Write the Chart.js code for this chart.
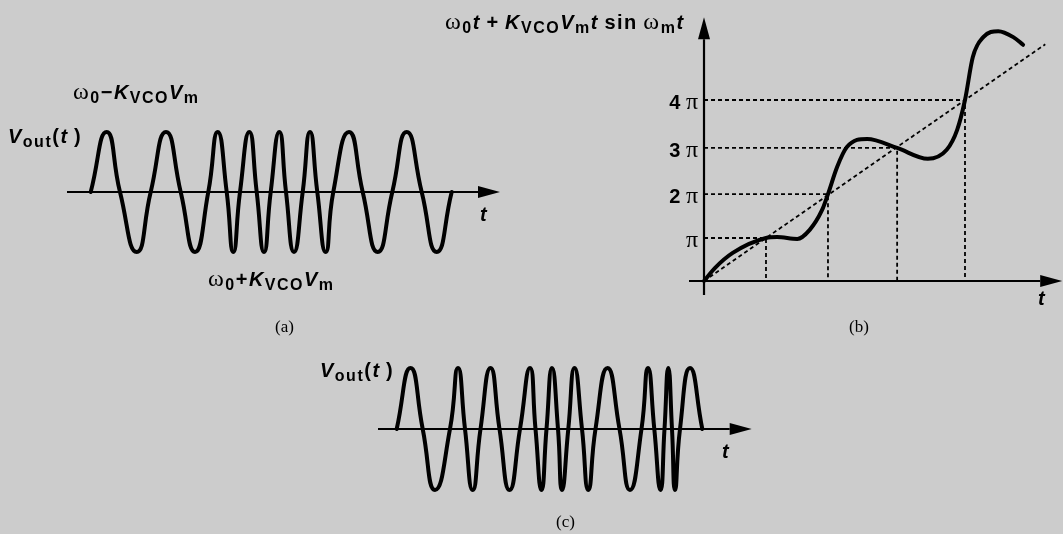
<!DOCTYPE html>
<html>
<head>
<meta charset="utf-8">
<script src="https://cdn.jsdelivr.net/npm/chart.js@4.4.1/dist/chart.umd.min.js"></script>
<style>
  body { margin: 0; background: #cccccc; width: 1063px; height: 534px; position: relative; overflow: hidden;
         font-family: "Liberation Sans", Arial, sans-serif; }
  canvas { position: absolute; }
  .lbl { position: absolute; white-space: nowrap; line-height: 1; color: #000; font-weight: bold; font-size: 20px; letter-spacing: 1.5px; }
  .lbl i { font-style: italic; }
  .lbl sub { font-size: 16px; vertical-align: -4px; font-style: normal; line-height: 0; }
  .sr { font-family: "Liberation Serif", "Times New Roman", serif; font-weight: normal; font-style: normal; font-size: 24px; line-height: 0; }
  .cap { position: absolute; font-family: "Liberation Serif", serif; font-size: 17px; line-height: 1; }
</style>
</head>
<body>
<canvas id="chartA" width="480" height="180" style="left:40px;top:100px"></canvas>
<canvas id="chartB" width="423" height="310" style="left:640px;top:0px"></canvas>
<canvas id="chartC" width="420" height="180" style="left:360px;top:340px"></canvas>

<div class="lbl" style="left:73px;top:82px"><span class="sr">ω</span><sub>0</sub>−<i>K</i><sub>VCO</sub><i>V</i><sub>m</sub></div>
<div class="lbl" style="left:8px;top:126px"><i>V</i><sub>out</sub>(<i>t</i>&thinsp;)</div>
<div class="lbl" style="left:208px;top:269px"><span class="sr">ω</span><sub>0</sub>+<i>K</i><sub>VCO</sub><i>V</i><sub>m</sub></div>
<div class="lbl" style="left:480px;top:204px"><i>t</i></div>
<div class="cap" style="left:275px;top:318px">(a)</div>

<div class="lbl" style="left:445px;top:12px"><span class="sr">ω</span><sub>0</sub><i>t</i>&thinsp;+&thinsp;<i>K</i><sub>VCO</sub><i>V</i><sub>m</sub><i>t</i>&thinsp;sin&thinsp;<span class="sr">ω</span><sub>m</sub><i>t</i></div>
<div class="lbl" style="left:1038px;top:288px"><i>t</i></div>
<div class="cap" style="left:849px;top:318px">(b)</div>

<div class="lbl" style="left:320px;top:360px"><i>V</i><sub>out</sub>(<i>t</i>&thinsp;)</div>
<div class="lbl" style="left:722px;top:441px"><i>t</i></div>
<div class="cap" style="left:556px;top:513px">(c)</div>

<script>
// (a) FM output: times of zero crossings / peaks (arb. units) and normalized level
const aTimes = [0, 1.6, 2.93, 4.6, 6.0, 7.53, 9.0, 10.43, 11.76, 12.7, 13.6, 14.26, 14.93, 15.86, 16.6, 17.33,
  18.0, 18.86, 19.53, 20.33, 21.2, 21.93, 22.66, 23.5, 24.26, 25.83, 27.2, 28.7, 30.16, 31.6, 33.1, 34.6, 36.1];
const aLevels = [0, 1, 0, -1, 0, 1, 0, -1, 0, 1, 0, -1, 0, 1, 0, -1,
  0, 1, 0, -1, 0, 1, 0, -1, 0, 1, 0, -1, 0, 1, 0, -1, 0];

// (b) phase vs time (phase in units of pi)
const bCurveT = [0, 0.17, 0.44, 0.95, 1.12, 1.43, 1.62, 1.81, 1.90, 2.04, 2.19, 2.50, 2.96, 3.43, 3.72, 3.88, 4.00, 4.12, 4.28, 4.51, 4.74, 4.89];
const bCurveV = [0, 0.29, 0.62, 0.95, 0.97, 0.93, 1.13, 1.57, 1.92, 2.52, 2.96, 3.14, 2.94, 2.70, 2.90, 3.34, 4.00, 4.95, 5.39, 5.52, 5.39, 5.22];
const bDiagT = [0, 5.23];
const bDiagV = [0, 5.23];
const bLevels = [0.95, 1.92, 2.94, 4.0];
const bCrossT = [0.95, 1.90, 2.96, 4.0];
const bLevelLabels = ['π', '2 π', '3 π', '4 π'];

// (c) output for the phase in (b)
const cTimes = [0, 1.38, 2.6, 3.83, 5.33, 6.13, 6.83, 7.6, 8.38, 9.38, 10.28, 11.28, 12.33, 13.33, 13.88, 14.48,
  14.98, 15.53, 16.13, 16.53, 17.16, 17.78, 18.53, 19.16, 19.88, 21.08, 22.28, 23.33, 24.48, 25.13, 25.76, 26.38,
  26.78, 27.16, 27.53, 27.83, 28.33, 29.33, 30.56];
const cLevels = [0, 1, 0, -1, 0, 1, 0, -1, 0, 1, 0, -1, 0, 1, 0, -1,
  0, 1, 0, -1, 0, 1, 0, -1, 0, 1, 0, -1, 0, 1, 0, -1,
  0, 1, 0, -1, 0, 1, 0];

const pts = (xs, ys) => xs.map((x, i) => ({ x: x, y: ys[i] }));

const arrowAxes = {
  id: 'arrowAxes',
  beforeDatasetsDraw(chart, args, opts) {
    const { ctx, scales: { x, y } } = chart;
    ctx.save();
    ctx.strokeStyle = '#000';
    ctx.fillStyle = '#000';
    ctx.lineWidth = opts.width;
    for (const ax of opts.axes) {
      const x0 = x.getPixelForValue(ax.from[0]), y0 = y.getPixelForValue(ax.from[1]);
      const x1 = x.getPixelForValue(ax.to[0]), y1 = y.getPixelForValue(ax.to[1]);
      const a = Math.atan2(y1 - y0, x1 - x0);
      const bx = x1 - opts.head * Math.cos(a), by = y1 - opts.head * Math.sin(a);
      ctx.beginPath();
      ctx.moveTo(x0, y0);
      ctx.lineTo(bx, by);
      ctx.stroke();
      ctx.beginPath();
      ctx.moveTo(x1, y1);
      ctx.lineTo(bx - opts.half * Math.sin(a), by + opts.half * Math.cos(a));
      ctx.lineTo(bx + opts.half * Math.sin(a), by - opts.half * Math.cos(a));
      ctx.closePath();
      ctx.fill();
    }
    ctx.restore();
  }
};

function baseOptions(xr, yr, axes) {
  return {
    responsive: false,
    animation: false,
    events: [],
    layout: { padding: 0 },
    plugins: {
      legend: { display: false },
      tooltip: { enabled: false },
      arrowAxes: { width: 2, head: 22, half: 6, axes: axes }
    },
    scales: {
      x: { type: 'linear', display: false, min: xr[0], max: xr[1] },
      y: { type: 'linear', display: false, min: yr[0], max: yr[1] }
    }
  };
}

function wave(data, mode) {
  return {
    data: data,
    showLine: true,
    borderColor: '#000',
    borderWidth: 4,
    pointRadius: 0,
    cubicInterpolationMode: mode || 'default',
    tension: 0.55,
    borderCapStyle: 'round'
  };
}

new Chart(document.getElementById('chartA'), {
  type: 'scatter',
  data: { datasets: [wave(pts(aTimes, aLevels))] },
  options: baseOptions([-5.07, 42.93], [-1.467, 1.533], [{ from: [-2.37, 0], to: [40.93, 0] }]),
  plugins: [arrowAxes]
});

new Chart(document.getElementById('chartC'), {
  type: 'scatter',
  data: { datasets: [wave(pts(cTimes, cLevels))] },
  options: baseOptions([-3.67, 38.33], [-1.492, 1.459], [{ from: [-1.87, 0], to: [35.5, 0] }]),
  plugins: [arrowAxes]
});

const dotted = (data) => ({
  data: data,
  showLine: true,
  borderColor: '#000',
  borderWidth: 1.8,
  borderDash: [4, 3],
  pointRadius: 0,
  tension: 0
});

const guideSets = bLevels.map((lv, i) => dotted([{ x: 0, y: lv }, { x: bCrossT[i], y: lv }, { x: bCrossT[i], y: 0 }]));
const bOpts = baseOptions([-0.981, 5.502], [-0.641, 6.210],
  [{ from: [-0.23, 0], to: [5.49, 0] }, { from: [0, -0.31], to: [0, 5.83] }]);
bOpts.plugins.arrowAxes.width = 2.2;

const chartB = new Chart(document.getElementById('chartB'), {
  type: 'scatter',
  data: { datasets: [...guideSets, dotted(pts(bDiagT, bDiagV)), wave(pts(bCurveT, bCurveV), 'monotone')] },
  options: bOpts,
  plugins: [arrowAxes]
});

// tick labels on the phase axis, placed through the chart's y scale
const canvasB = document.getElementById('chartB');
bLevels.forEach((lv, i) => {
  const yPix = chartB.scales.y.getPixelForValue(lv) + canvasB.offsetTop;
  const d = document.createElement('div');
  d.className = 'lbl';
  d.style.letterSpacing = '0';
  d.style.right = (1063 - 698) + 'px';
  d.style.top = (yPix - 8) + 'px';
  const parts = bLevelLabels[i].split(' ');
  d.innerHTML = (parts.length > 1 ? parts[0] + ' ' : '') + '<span class="sr">π</span>';
  document.body.appendChild(d);
});
</script>
</body>
</html>
